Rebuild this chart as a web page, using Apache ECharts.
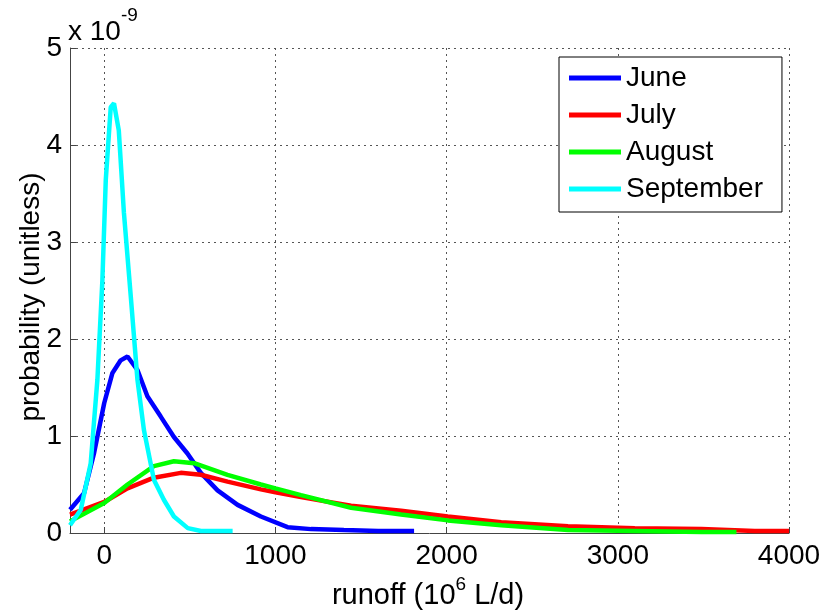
<!DOCTYPE html>
<html>
<head>
<meta charset="utf-8">
<script src="https://cdn.jsdelivr.net/npm/echarts@6/dist/echarts.min.js"></script>
<style>
  html, body { margin: 0; padding: 0; background: #fff; }
  #chart { width: 824px; height: 615px; }
</style>
</head>
<body>
<div id="chart"></div>
<script>
// runoff (10^6 L/d) and probability (x 1e-9)
const juneX = [-200, -118, -60, 0, 48, 96, 136, 194, 252, 330, 407, 486, 564, 662, 779, 915, 1071, 1208, 1400, 1600, 1810]
const juneY = [0.24, 0.41, 0.82, 1.34, 1.65, 1.78, 1.82, 1.68, 1.41, 1.2, 0.99, 0.82, 0.62, 0.44, 0.29, 0.17, 0.06, 0.04, 0.03, 0.02, 0.02]

const julyX = [-200, 0, 136, 290, 447, 564, 720, 915, 1000, 1149, 1442, 1734, 2007, 2319, 2709, 3099, 3489, 3800, 4000]
const julyY = [0.19, 0.32, 0.46, 0.57, 0.62, 0.60, 0.53, 0.45, 0.42, 0.37, 0.28, 0.23, 0.17, 0.11, 0.07, 0.05, 0.04, 0.02, 0.02]

const augustX = [-200, 0, 136, 290, 407, 525, 720, 915, 1000, 1149, 1442, 1734, 2007, 2319, 2709, 3099, 3489, 3693]
const augustY = [0.12, 0.31, 0.50, 0.69, 0.74, 0.72, 0.60, 0.50, 0.46, 0.39, 0.26, 0.19, 0.13, 0.08, 0.03, 0.02, 0.01, 0.01]

const septX = [-200, -137, -79, -40, -11, 9, 38, 57, 85, 115, 155, 194, 232, 290, 349, 407, 488, 565, 750]
const septY = [0.08, 0.24, 0.72, 1.58, 2.6, 3.64, 4.39, 4.43, 4.15, 3.3, 2.44, 1.58, 1.06, 0.55, 0.34, 0.17, 0.05, 0.02, 0.02]

const xTicks = [0, 1000, 2000, 3000, 4000]
const months = ['June', 'July', 'August', 'September']
const colors = ['#0000ff', '#ff0000', '#00ff00', '#00ffff']

const FONT = '"Liberation Sans", Arial, sans-serif'
const FS = 28

function pairs(xs, ys) {
  return xs.map((x, i) => [x, ys[i]])
}

const seriesData = [
  pairs(juneX, juneY),
  pairs(julyX, julyY),
  pairs(augustX, augustY),
  pairs(septX, septY)
]

const chart = echarts.init(document.getElementById('chart'))

chart.setOption({
  animation: false,
  grid: { left: 70, right: 35, top: 48, bottom: 82, containLabel: false },
  legend: {
    orient: 'vertical',
    left: 559,
    top: 57,
    padding: [6, 19, 8, 10],
    itemGap: 7,
    itemWidth: 52,
    itemHeight: 5,
    icon: 'rect',
    backgroundColor: '#fff',
    borderColor: '#000',
    borderWidth: 1,
    borderRadius: 0,
    textStyle: { fontFamily: FONT, fontSize: FS, color: '#000', lineHeight: 30 },
    data: months
  },
  xAxis: {
    type: 'value',
    min: -200,
    max: 4000,
    axisLine: { show: true, onZero: false, lineStyle: { color: '#444', width: 1 } },
    axisTick: { show: true, inside: true, length: 6, customValues: xTicks, lineStyle: { color: '#444' } },
    axisLabel: {
      customValues: xTicks,
      fontFamily: FONT,
      fontSize: FS,
      color: '#000',
      margin: 9,
      formatter: v => String(v)
    },
    splitLine: { show: true, lineStyle: { color: '#555', type: [2, 4], width: 1 } }
  },
  yAxis: {
    type: 'value',
    min: 0,
    max: 5,
    interval: 1,
    axisLine: { show: true, onZero: false, lineStyle: { color: '#444', width: 1 } },
    axisTick: { show: true, inside: true, length: 6, lineStyle: { color: '#444' } },
    axisLabel: { fontFamily: FONT, fontSize: FS, color: '#000', margin: 8 },
    splitLine: { show: true, lineStyle: { color: '#555', type: [2, 4], width: 1 } }
  },
  graphic: [
    {
      type: 'text',
      left: 68,
      top: 6,
      style: {
        text: '{a|x 10}{b|-9}',
        rich: {
          a: { fontFamily: FONT, fontSize: FS, fill: '#000', verticalAlign: 'bottom', padding: [12, 0, 0, 0] },
          b: { fontFamily: FONT, fontSize: 19, fill: '#000', verticalAlign: 'top' }
        }
      }
    },
    {
      type: 'text',
      x: 31,
      y: 297,
      rotation: Math.PI / 2,
      style: {
        text: 'probability (unitless)',
        fontFamily: FONT,
        fontSize: FS,
        fill: '#000',
        align: 'center',
        verticalAlign: 'middle'
      }
    },
    {
      type: 'text',
      x: 428,
      y: 591,
      style: {
        text: '{a|runoff (10}{b|6}{a| L/d)}',
        align: 'center',
        verticalAlign: 'middle',
        rich: {
          a: { fontFamily: FONT, fontSize: 29, fill: '#000', padding: [9, 0, 0, 0] },
          b: { fontFamily: FONT, fontSize: 19, fill: '#000', padding: [0, 0, 12, 0] }
        }
      }
    }
  ],
  series: months.map((name, i) => ({
    name: name,
    type: 'line',
    data: seriesData[i],
    showSymbol: false,
    symbol: 'none',
    smooth: false,
    color: colors[i],
    lineStyle: { color: colors[i], width: 4.5 },
    clip: true
  }))
})
</script>
</body>
</html>
